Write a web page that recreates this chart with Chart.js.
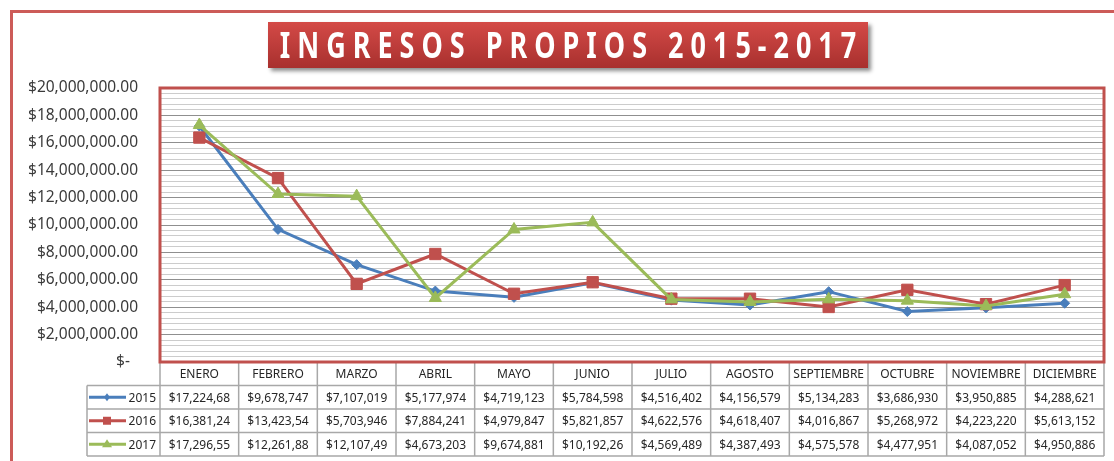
<!DOCTYPE html>
<html>
<head>
<meta charset="utf-8">
<script src="https://cdn.jsdelivr.net/npm/chart.js@4.4.1/dist/chart.umd.min.js"></script>
<style>
  body { margin: 0; background: #fff; }
  #wrap { position: relative; width: 1114px; height: 461px; overflow: hidden; }
  #frame { position: absolute; left: 10px; top: 10px; width: 1200px; height: 500px;
           border-top: 3px solid #cc5b58; border-left: 3px solid #cc5b58; }
  #titulo { position: absolute; left: 268px; top: 22px; width: 600px; height: 46px;
            background: linear-gradient(#d44a47, #a8302e); box-shadow: 3px 3px 4px rgba(0,0,0,0.45);
            color: #fff; font: bold 27px "Noto Sans", sans-serif; letter-spacing: 7px;
            white-space: nowrap; text-align: center; line-height: 46px; z-index: 2; }
  #titulo span { display: inline-block; transform: scaleY(1.3); margin-left: 7px; }
  canvas { position: absolute; left: 0; top: 0; }
</style>
</head>
<body>
<div id="wrap">
  <div id="frame"></div>
  <div id="titulo"><span>INGRESOS PROPIOS 2015-2017</span></div>
  <canvas id="myChart" width="1114" height="461"></canvas>
</div>
<script>
const meses = ['ENERO', 'FEBRERO', 'MARZO', 'ABRIL', 'MAYO', 'JUNIO', 'JULIO', 'AGOSTO', 'SEPTIEMBRE', 'OCTUBRE', 'NOVIEMBRE', 'DICIEMBRE'];
const anios = ['2015', '2016', '2017'];
const ingresos2015 = [17224680, 9678747, 7107019, 5177974, 4719123, 5784598, 4516402, 4156579, 5134283, 3686930, 3950885, 4288621];
const ingresos2016 = [16381240, 13423540, 5703946, 7884241, 4979847, 5821857, 4622576, 4618407, 4016867, 5268972, 4223220, 5613152];
const ingresos2017 = [17296550, 12261880, 12107490, 4673203, 9674881, 10192260, 4569489, 4387493, 4575578, 4477951, 4087052, 4950886];
const colores = ['#4a7ebb', '#c0504d', '#9bbb59'];

function moneda(v) {
  return '$' + String(Math.round(v)).replace(/\B(?=(\d{3})+(?!\d))/g, ',');
}

const ctx = document.getElementById('myChart');

// tabla de datos debajo del grafico
const tablaDatos = {
  id: 'tablaDatos',
  afterDraw(chart) {
    const c = chart.ctx;
    const a = chart.chartArea;
    const xs = chart.scales.x;
    const colW = (a.right - a.left) / meses.length;
    const rowH = 23.5;
    const legLeft = 87;
    const top = a.bottom;
    const bottom = top + rowH * 4;

    c.save();
    c.strokeStyle = '#a8a8a8';
    c.lineWidth = 1.5;
    c.beginPath();
    // verticales
    for (let i = 0; i <= meses.length; i++) {
      const x = a.left + colW * i;
      c.moveTo(x, top); c.lineTo(x, bottom);
    }
    c.moveTo(legLeft, top + rowH); c.lineTo(legLeft, bottom);
    // horizontales
    for (let r = 1; r <= 4; r++) {
      c.moveTo(legLeft, top + rowH * r); c.lineTo(a.right, top + rowH * r);
    }
    c.stroke();

    c.fillStyle = '#262626';
    c.font = '12px "Noto Sans", sans-serif';
    c.textAlign = 'center';
    c.textBaseline = 'middle';
    meses.forEach((m, i) => {
      c.fillText(m, xs.getPixelForValue(i), top + rowH / 2 + 1);
    });

    chart.data.datasets.forEach((ds, r) => {
      const y = top + rowH * (r + 1.5) + 1;
      c.textAlign = 'center';
      ds.data.forEach((v, i) => {
        c.fillText(moneda(v).slice(0, 10), xs.getPixelForValue(i), y);
      });
      // clave de leyenda
      c.strokeStyle = ds.borderColor;
      c.lineWidth = 3;
      c.beginPath();
      c.moveTo(legLeft + 2, y - 1); c.lineTo(legLeft + 39, y - 1);
      c.stroke();
      c.fillStyle = ds.borderColor;
      const mx = legLeft + 20, my = y - 1;
      c.beginPath();
      if (r === 0) {
        c.moveTo(mx, my - 4); c.lineTo(mx + 3, my); c.lineTo(mx, my + 4); c.lineTo(mx - 3, my);
      } else if (r === 1) {
        c.rect(mx - 4, my - 4, 8, 8);
      } else {
        c.moveTo(mx, my - 5); c.lineTo(mx + 5, my + 3); c.lineTo(mx - 5, my + 3);
      }
      c.closePath();
      c.fill();
      c.fillStyle = '#262626';
      c.textAlign = 'right';
      c.fillText(anios[r], a.left - 4, y);
    });

    // borde del area de trazado
    c.strokeStyle = '#c0504d';
    c.lineWidth = 3;
    c.strokeRect(a.left, a.top, a.right - a.left, a.bottom - a.top);
    c.restore();
  }
};

new Chart(ctx, {
  type: 'line',
  data: {
    labels: meses,
    datasets: [
      { label: anios[0], data: ingresos2015, borderColor: colores[0], backgroundColor: colores[0],
        pointStyle: 'rectRot', pointRadius: 5, order: 3 },
      { label: anios[1], data: ingresos2016, borderColor: colores[1], backgroundColor: colores[1],
        pointStyle: 'rect', pointRadius: 8, order: 2 },
      { label: anios[2], data: ingresos2017, borderColor: colores[2], backgroundColor: colores[2],
        pointStyle: 'triangle', pointRadius: 7, order: 1 }
    ]
  },
  options: {
    responsive: false,
    animation: false,
    layout: { padding: { left: 0, top: 88, right: 10, bottom: 99 } },
    elements: { line: { borderWidth: 3, tension: 0 }, point: { borderWidth: 1 } },
    plugins: { legend: { display: false }, tooltip: { enabled: false } },
    scales: {
      x: { display: false, offset: true },
      y: {
        min: 0,
        max: 20000000,
        afterFit(s) { s.width = 160; },
        border: { display: false },
        grid: {
          drawTicks: false,
          color: c => (c.tick && c.tick.value % 2000000 === 0) ? '#8f8f8f' : '#cccccc'
        },
        ticks: {
          stepSize: 400000,
          autoSkip: false,
          padding: 22,
          color: '#3a3a3a',
          font: { family: 'Noto Sans', size: 15.5 },
          callback: v => {
            if (v % 2000000 !== 0) return '';
            if (v === 0) return '$-  ';
            return moneda(v) + '.00';
          }
        }
      }
    }
  },
  plugins: [tablaDatos]
});
</script>
</body>
</html>
